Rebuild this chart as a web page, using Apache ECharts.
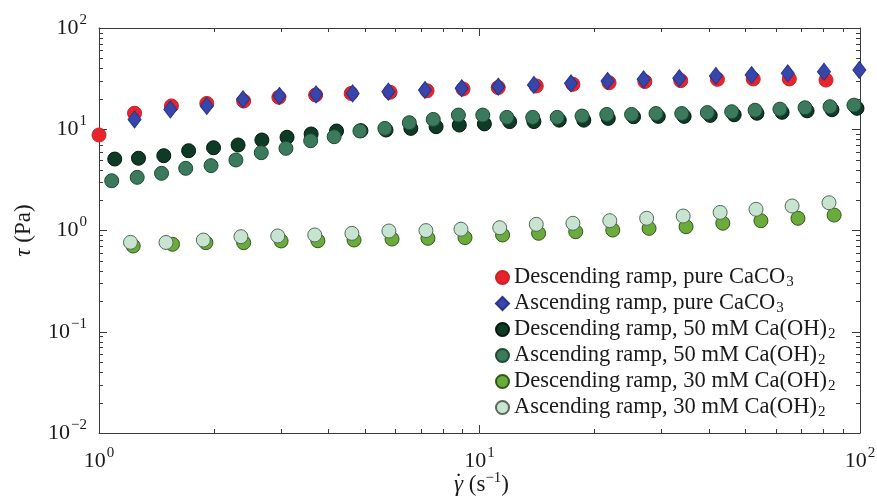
<!DOCTYPE html>
<html>
<head>
<meta charset="utf-8">
<script src="https://cdn.jsdelivr.net/npm/echarts@6/dist/echarts.min.js"></script>
<style>
  html, body { margin: 0; padding: 0; background: #ffffff; }
  #chart { width: 877px; height: 500px; }
</style>
</head>
<body>
<div id="chart"></div>
<script>
// Shear rate (1/s) and shear stress (Pa) for each ramp
const rateDescPure = [1.00, 1.24, 1.55, 1.92, 2.40, 2.97, 3.71, 4.60, 5.82, 7.28, 9.05, 11.2, 14.1, 17.6, 21.9, 27.2, 33.8, 42.2, 52.4, 65.2, 81.4];
const stressDescPure = [8.78, 14.4, 17.0, 18.0, 19.0, 20.7, 21.8, 22.6, 23.2, 24.0, 25.0, 25.8, 26.8, 27.8, 28.8, 29.6, 30.2, 31.1, 31.4, 31.4, 30.6];

const rateAscPure = [1.24, 1.54, 1.92, 2.39, 2.98, 3.72, 4.64, 5.76, 7.19, 8.98, 11.2, 13.9, 17.4, 21.7, 27.0, 33.5, 41.8, 51.9, 64.6, 80.4, 99.6];
const stressAscPure = [12.5, 15.7, 17.0, 19.8, 21.3, 22.1, 22.6, 23.5, 24.4, 25.4, 26.3, 27.4, 28.4, 30.0, 31.1, 31.9, 33.6, 34.3, 35.7, 37.0, 38.5];

const rateDesc50 = [1.10, 1.27, 1.48, 1.72, 2.00, 2.32, 2.68, 3.12, 3.61, 4.21, 4.88, 5.68, 6.60, 7.69, 8.85, 10.3, 12.0, 13.9, 16.2, 18.8, 21.8, 25.4, 29.5, 34.5, 40.4, 46.7, 53.6, 62.4, 72.6, 84.4, 98.2];
const stressDesc50 = [5.08, 5.17, 5.48, 6.14, 6.57, 6.99, 7.83, 8.33, 8.98, 9.61, 9.68, 9.83, 10.2, 10.6, 11.0, 11.3, 11.9, 11.9, 12.3, 12.3, 12.8, 13.3, 13.4, 13.4, 13.7, 13.9, 14.4, 14.7, 15.2, 15.6, 16.1];

const rateAsc50 = [1.08, 1.26, 1.46, 1.69, 1.97, 2.29, 2.67, 3.10, 3.60, 4.15, 4.85, 5.64, 6.54, 7.56, 8.80, 10.2, 11.8, 13.8, 16.0, 18.6, 21.6, 25.1, 29.1, 34.0, 39.7, 46.0, 53.0, 61.6, 71.7, 83.4, 96.4];
const stressAsc50 = [3.10, 3.35, 3.67, 4.11, 4.37, 4.97, 5.87, 6.48, 7.71, 8.44, 9.61, 10.2, 11.6, 12.5, 13.8, 13.8, 13.1, 13.1, 13.1, 13.5, 14.0, 14.0, 14.3, 14.3, 14.6, 14.9, 15.4, 15.8, 16.3, 16.7, 17.3];

const rateDesc30 = [1.23, 1.56, 1.91, 2.40, 3.01, 3.76, 4.68, 5.89, 7.32, 9.16, 11.5, 14.3, 17.9, 22.4, 27.9, 34.9, 43.6, 54.9, 68.7, 85.5];
const stressDesc30 = [0.703, 0.731, 0.758, 0.758, 0.788, 0.792, 0.806, 0.824, 0.837, 0.850, 0.903, 0.938, 0.973, 1.01, 1.05, 1.09, 1.18, 1.25, 1.32, 1.42];

const rateAsc30 = [1.21, 1.50, 1.88, 2.36, 2.95, 3.69, 4.62, 5.78, 7.23, 8.94, 11.3, 14.1, 17.6, 22.0, 27.5, 34.3, 42.9, 53.3, 66.3, 82.9];
const stressAsc30 = [0.764, 0.762, 0.805, 0.869, 0.883, 0.904, 0.937, 0.989, 0.998, 1.03, 1.066, 1.15, 1.178, 1.25, 1.32, 1.39, 1.51, 1.62, 1.746, 1.88];

const seriesNames = [
  'Descending ramp, pure CaCO3',
  'Ascending ramp, pure CaCO3',
  'Descending ramp, 50 mM Ca(OH)2',
  'Ascending ramp, 50 mM Ca(OH)2',
  'Descending ramp, 30 mM Ca(OH)2',
  'Ascending ramp, 30 mM Ca(OH)2'
];

// Axis ranges (decades)
const X_MIN = 1, X_MAX = 100;
const Y_MIN = 0.01, Y_MAX = 100;

const SERIF = "'Liberation Serif', 'DejaVu Serif', serif";
const AXIS_COLOR = '#3a3a3a';
const TEXT_COLOR = '#1a1a1a';

const zip = (xs, ys) => xs.map((x, i) => [x, ys[i]]);

function expLabel(v) {
  const e = Math.round(Math.log10(v));
  const s = e < 0 ? '\u2212' + Math.abs(e) : String(e);
  return '{b|10}{s|' + s + '}';
}

const tickRich = {
  b: { fontFamily: SERIF, fontSize: 22, color: TEXT_COLOR },
  s: { fontFamily: SERIF, fontSize: 15, color: TEXT_COLOR, padding: [0, 0, 16, 1] }
};

function legendLabel(name) {
  return name.replace('CaCO3', 'CaCO{sub|3}').replace('Ca(OH)2', 'Ca(OH){sub|2}');
}

// Minor decade ticks (2..9 x 10^k) on all four sides of the frame
function minorValues(lo, hi) {
  const out = [];
  for (let d = lo; d < hi; d *= 10) {
    for (let m = 2; m <= 9; m++) out.push(+(m * d).toPrecision(3));
  }
  return out;
}
const MINOR_LEN = 4;
function minorTickSeries(values, dir) {
  return {
    type: 'custom',
    silent: true,
    z: 1,
    coordinateSystem: 'cartesian2d',
    xAxisIndex: 0,
    yAxisIndex: 0,
    data: values.map(v => dir === 'x' ? [v, 1] : [10, v]),
    renderItem: function (params, api) {
      const style = { stroke: AXIS_COLOR, lineWidth: 1 };
      if (dir === 'x') {
        const v = api.value(0);
        const a = api.coord([v, Y_MIN]);
        const b = api.coord([v, Y_MAX]);
        const x = Math.round(a[0]) + 0.5;
        return { type: 'group', children: [
          { type: 'line', shape: { x1: x, y1: a[1], x2: x, y2: a[1] - MINOR_LEN }, style: style },
          { type: 'line', shape: { x1: x, y1: b[1], x2: x, y2: b[1] + MINOR_LEN }, style: style }
        ] };
      }
      const v = api.value(1);
      const a = api.coord([X_MIN, v]);
      const b = api.coord([X_MAX, v]);
      const y = Math.round(a[1]) + 0.5;
      return { type: 'group', children: [
        { type: 'line', shape: { x1: a[0], y1: y, x2: a[0] + MINOR_LEN, y2: y }, style: style },
        { type: 'line', shape: { x1: b[0], y1: y, x2: b[0] - MINOR_LEN, y2: y }, style: style }
      ] };
    }
  };
}

const markerStyles = [
  { symbol: 'circle', size: 14, color: '#e8232a', border: '#d01e24' },
  { symbol: 'diamond', size: [13, 17], color: '#3646aa', border: '#27358c' },
  { symbol: 'circle', size: 14, color: '#0e3b25', border: '#06170e' },
  { symbol: 'circle', size: 14, color: '#3b7a5d', border: '#1d4a35' },
  { symbol: 'circle', size: 14, color: '#6aab3b', border: '#2e5a19' },
  { symbol: 'circle', size: 14, color: '#c7e4d1', border: '#56685c' }
];
const dataSets = [
  zip(rateDescPure, stressDescPure),
  zip(rateAscPure, stressAscPure),
  zip(rateDesc50, stressDesc50),
  zip(rateAsc50, stressAsc50),
  zip(rateDesc30, stressDesc30),
  zip(rateAsc30, stressAsc30)
];

const scatterSeries = seriesNames.map((name, i) => ({
  name: name,
  type: 'scatter',
  clip: false,
  z: 3,
  symbol: markerStyles[i].symbol,
  symbolSize: markerStyles[i].size,
  itemStyle: {
    color: markerStyles[i].color,
    borderColor: markerStyles[i].border,
    borderWidth: 1,
    opacity: 1
  },
  data: dataSets[i]
}));

function logAxis(extra) {
  return Object.assign({
    type: 'log',
    logBase: 10,
    axisLine: { show: true, onZero: false, lineStyle: { color: AXIS_COLOR, width: 1 } },
    axisTick: { show: true, inside: true, length: 8, lineStyle: { color: AXIS_COLOR, width: 1 } },
    splitLine: { show: false },
    minorTick: { show: false },
    minorSplitLine: { show: false }
  }, extra);
}

const GRID = { left: 99, right: 17, top: 28, bottom: 67 };
const plotCenterX = GRID.left + (877 - GRID.left - GRID.right) / 2;

const chart = echarts.init(document.getElementById('chart'), null, { renderer: 'canvas' });
chart.setOption({
  animation: false,
  backgroundColor: '#ffffff',
  grid: Object.assign({ containLabel: false, outerBoundsMode: 'none' }, GRID),
  xAxis: [
    logAxis({
      position: 'bottom', min: X_MIN, max: X_MAX,
      axisLabel: { margin: 13, formatter: expLabel, rich: tickRich }
    }),
    logAxis({
      position: 'top', min: X_MIN, max: X_MAX,
      axisLabel: { show: false }
    })
  ],
  yAxis: [
    logAxis({
      position: 'left', min: Y_MIN, max: Y_MAX,
      axisLabel: { margin: 12, formatter: expLabel, rich: tickRich },
      name: '{t|\u03C4} (Pa)',
      nameLocation: 'middle',
      nameRotate: 90,
      nameGap: 64,
      nameTextStyle: {
        fontFamily: SERIF, fontSize: 23, color: TEXT_COLOR,
        rich: { t: { fontFamily: SERIF, fontSize: 23, fontStyle: 'italic', color: TEXT_COLOR } }
      }
    }),
    logAxis({
      position: 'right', min: Y_MIN, max: Y_MAX,
      axisLabel: { show: false }
    })
  ],
  // x-axis title: shear rate symbol (gamma with an overdot) and unit
  graphic: [
    {
      type: 'text', x: plotCenterX + 2, y: 485, silent: true,
      style: {
        text: '{g|\u03B3} (s{s|\u22121})',
        align: 'center', verticalAlign: 'middle',
        font: '23px ' + SERIF, fill: TEXT_COLOR,
        rich: {
          g: { fontFamily: SERIF, fontSize: 23, fontStyle: 'italic', fill: TEXT_COLOR },
          s: { fontFamily: SERIF, fontSize: 15, fill: TEXT_COLOR, padding: [0, 0, 14, 0] }
        }
      }
    },
    {
      type: 'text', x: plotCenterX - 21, y: 483, silent: true,
      style: {
        text: '\u02D9', align: 'center', verticalAlign: 'middle',
        font: '23px ' + SERIF, fill: TEXT_COLOR
      }
    }
  ],
  legend: {
    data: seriesNames,
    orient: 'vertical',
    left: 490,
    top: 261,
    itemWidth: 13,
    itemHeight: 13,
    itemGap: 2,
    selectedMode: false,
    formatter: legendLabel,
    textStyle: {
      fontFamily: SERIF, fontSize: 22.5, color: TEXT_COLOR, lineHeight: 23,
      padding: [0, 0, 0, 0],
      rich: {
        sub: { fontFamily: SERIF, fontSize: 15, color: TEXT_COLOR, padding: [10, 0, 0, 1] }
      }
    }
  },
  series: [
    minorTickSeries(minorValues(X_MIN, X_MAX), 'x'),
    minorTickSeries(minorValues(Y_MIN, Y_MAX), 'y')
  ].concat(scatterSeries)
});
</script>
</body>
</html>
